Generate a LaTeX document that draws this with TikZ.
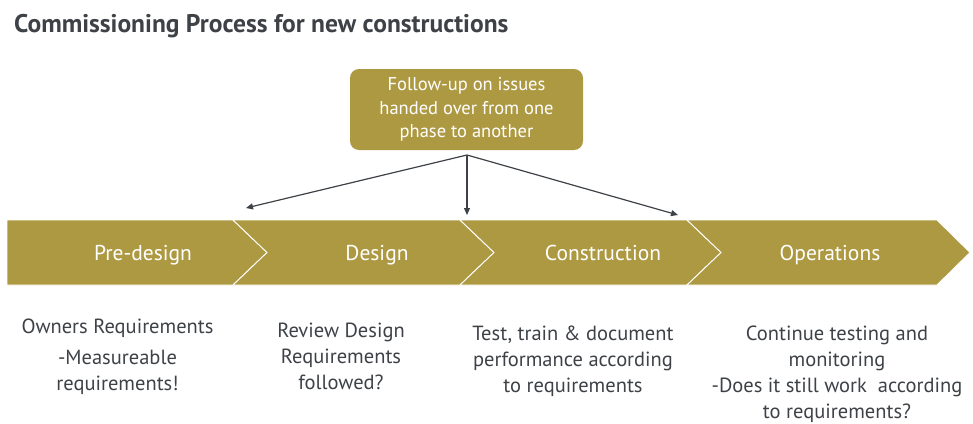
\documentclass[tikz,border=0pt]{standalone}
\usepackage{fontspec}
\setmainfont{PT Sans}
\usetikzlibrary{arrows.meta}
\definecolor{gold}{RGB}{174,153,67}
\definecolor{ink}{RGB}{62,66,71}
\tikzset{
  chev/.style={fill=gold,draw=white,line width=0.9pt,line join=miter},
  phase/.style={text=white,font=\fontsize{21.5}{24}\selectfont,inner sep=0pt,anchor=base},
  fubox/.style={fill=gold,text=white,rounded corners=9pt,align=center,
    minimum width=233pt,minimum height=81pt,inner sep=0pt,
    font=\fontsize{18.5}{23.3}\selectfont},
  conn/.style={draw=ink,line width=1.2pt,-{Triangle[length=7pt,width=6pt]}},
  desc/.style={text=ink,align=center,font=\fontsize{20.5}{26}\selectfont,inner sep=0pt,anchor=north}
}
\begin{document}
\begin{tikzpicture}[x=1pt,y=-1pt]
\useasboundingbox (0,0) rectangle (973,423);
% title
\node[anchor=base west,text=ink,font=\fontsize{25.5}{30}\selectfont\bfseries,inner sep=0pt] (title) at (14,32) {Commissioning Process for new constructions};
% chevrons
\path[chev] (7,220) -- (233,220) -- (267,252.5) -- (233,285) -- (7,285) -- cycle;
\path[chev] (233,220) -- (460,220) -- (494,252.5) -- (460,285) -- (233,285) -- (267,252.5) -- cycle;
\path[chev] (460,220) -- (687,220) -- (721,252.5) -- (687,285) -- (460,285) -- (494,252.5) -- cycle;
\path[chev] (687,220) -- (937,220) -- (970,252.5) -- (937,285) -- (687,285) -- (721,252.5) -- cycle;
\node[phase] (p1) at (143,260) {Pre-design};
\node[phase] (p2) at (377,260) {Design};
\node[phase] (p3) at (603,260) {Construction};
\node[phase] (p4) at (830,260) {Operations};
% follow-up box
\node[fubox] (fu) at (466.5,109.5) {Follow-up on issues\\handed over from one\\phase to another};
\coordinate (src) at (467,155);
\coordinate (t1) at (246,208);
\coordinate (t2) at (467,215);
\coordinate (t3) at (678,215);
\draw[conn] (src) -- (t1);
\draw[conn] (src) -- (t2);
\draw[conn] (src) -- (t3);
% descriptions
\node[desc] (d1) at (117.5,319) {Owners Requirements\\[5pt]-Measureable\\requirements!};
\node[desc] (d2) at (341,323) {Review Design\\Requirements\\followed?};
\node[desc] (d3) at (573,326) {Test, train \& document\\performance according\\to requirements};
\node[desc] (d4) at (837,326) {Continue testing and\\monitoring\\-Does it still work\ \ according\\to requirements?};
\end{tikzpicture}
\end{document}
